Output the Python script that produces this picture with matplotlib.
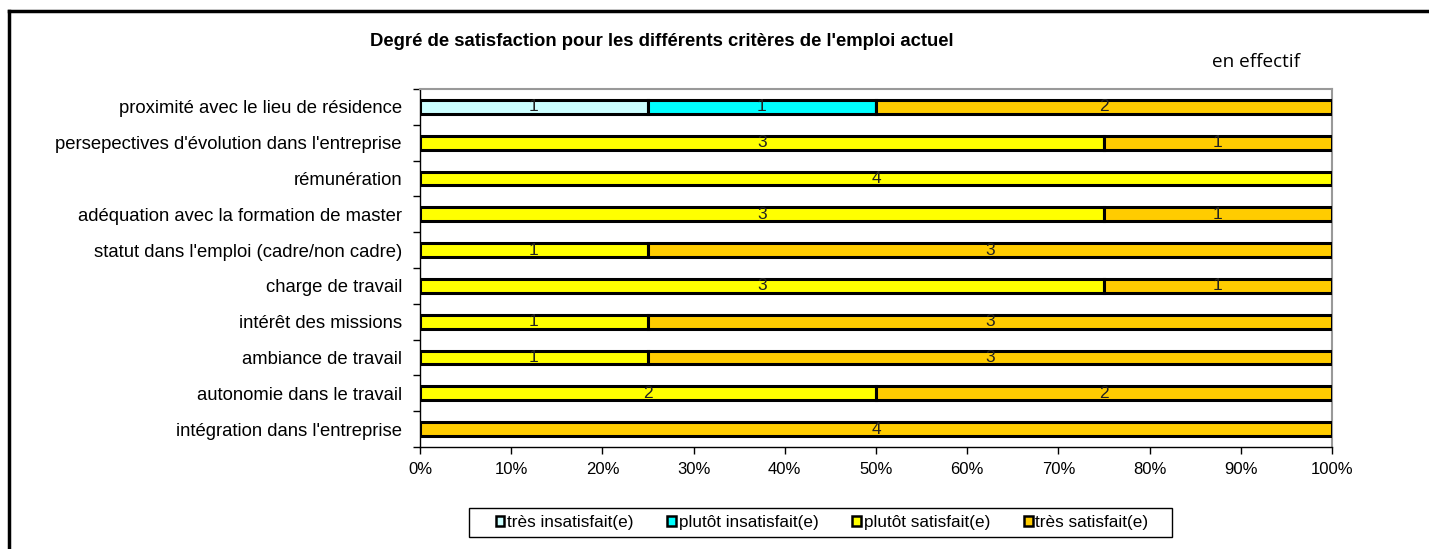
import numpy as np
import matplotlib
matplotlib.use("Agg")
import matplotlib.pyplot as plt
from matplotlib.patches import Patch, Rectangle
from matplotlib.lines import Line2D
from matplotlib.ticker import FixedLocator, PercentFormatter

plt.rcParams['font.family'] = ['Liberation Sans', 'DejaVu Sans']

# data (top to bottom as in the chart)
criteres = ["proximité avec le lieu de résidence",
            "persepectives d'évolution dans l'entreprise",
            "rémunération",
            "adéquation avec la formation de master",
            "statut dans l'emploi (cadre/non cadre)",
            "charge de travail",
            "intérêt des missions",
            "ambiance de travail",
            "autonomie dans le travail",
            "intégration dans l'entreprise"]
tres_insatisfait = [1, 0, 0, 0, 0, 0, 0, 0, 0, 0]
plutot_insatisfait = [1, 0, 0, 0, 0, 0, 0, 0, 0, 0]
plutot_satisfait = [0, 3, 4, 3, 1, 3, 1, 1, 2, 0]
tres_satisfait = [2, 1, 0, 1, 3, 1, 3, 3, 2, 4]

series = ["très insatisfait(e)", "plutôt insatisfait(e)",
          "plutôt satisfait(e)", "très satisfait(e)"]
couleurs = ["#CCFFFF", "#00FFFF", "#FFFF00", "#FFCC00"]

counts = np.array([tres_insatisfait, plutot_insatisfait,
                   plutot_satisfait, tres_satisfait], dtype=float)
totals = counts.sum(axis=0)
shares = counts / totals

W, H = 1429, 549
fig = plt.figure(figsize=(W/100, H/100), dpi=100)
ax = fig.add_axes([420/W, 1-447/H, (1332-420)/W, (447-89)/H])

y = np.arange(len(criteres))[::-1]
left = np.zeros(len(criteres))
for i in range(4):
    ax.barh(y, shares[i], left=left, height=0.38, color=couleurs[i],
            edgecolor='black', linewidth=2.2, zorder=3)
    for j in range(len(criteres)):
        if counts[i, j] > 0:
            ax.text(left[j] + shares[i, j]/2, y[j], "%d" % counts[i, j],
                    ha='center', va='center', fontsize=12.5, color='#222222', zorder=4)
    left += shares[i]

ax.set_xlim(0, 1)
ax.set_ylim(-0.5, len(criteres) - 0.5)
ax.set_xticks(np.arange(0, 1.01, 0.1))
ax.xaxis.set_major_formatter(PercentFormatter(1.0, decimals=0))
ax.set_yticks(y)
ax.set_yticklabels(criteres)
ax.yaxis.set_minor_locator(FixedLocator(np.arange(-0.5, len(criteres), 1)))
ax.tick_params(axis='y', which='major', length=0, pad=13, labelsize=13.3)
ax.tick_params(axis='y', which='minor', length=5, width=1, direction='out')
ax.tick_params(axis='x', length=5, width=1, labelsize=12, pad=6)

for s in ['top', 'right']:
    ax.spines[s].set_color('#999999')
    ax.spines[s].set_linewidth(1.5)
for s in ['left', 'bottom']:
    ax.spines[s].set_color('black')
    ax.spines[s].set_linewidth(1)

fig.text(662/W, 1-41/H, "Degré de satisfaction pour les différents critères de l'emploi actuel",
         ha='center', va='center', fontsize=13.3, fontweight='bold')
fig.text(1256/W, 1-62/H, "en effectif", ha='center', va='center',
         fontsize=13.6, family=['Open Sans', 'DejaVu Sans'])

# outer frame (top and left edges visible)
fig.add_artist(Line2D([9/W, 9/W], [0, 1-11/H], transform=fig.transFigure,
                      color='black', linewidth=2.5))
fig.add_artist(Line2D([9/W, 1], [1-11/H, 1-11/H], transform=fig.transFigure,
                      color='black', linewidth=2.5))

# legend box
fig.add_artist(Rectangle((469/W, 1-537/H), (1172-469)/W, 29/H, transform=fig.transFigure,
                         facecolor='white', edgecolor='black', linewidth=1))
handles = [Patch(facecolor=c, edgecolor='black', linewidth=1.8) for c in couleurs]
leg = fig.legend(handles, series, loc='center', bbox_to_anchor=(822/W, 1-522.5/H),
                 ncol=4, fontsize=12.3, frameon=False,
                 handlelength=0.5, handleheight=0.5, handletextpad=0.15,
                 columnspacing=2.0, borderpad=0.2)

fig.savefig("out.png", dpi=100)
